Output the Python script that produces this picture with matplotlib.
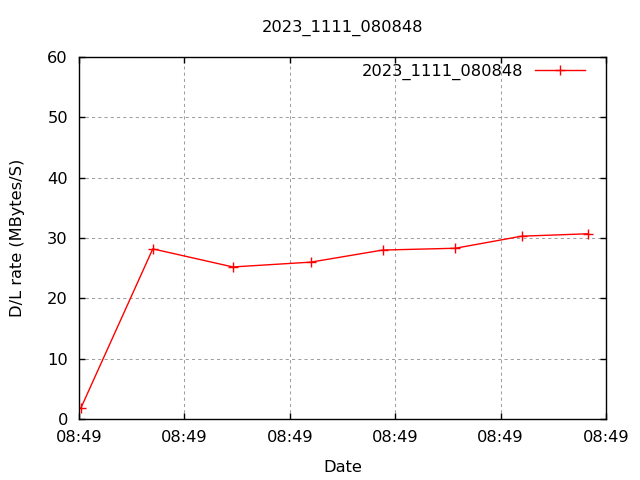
import matplotlib
matplotlib.use("Agg")
import matplotlib.pyplot as plt
import matplotlib.dates as mdates
import pandas as pd

times = ["08:49:00.2", "08:49:07.0", "08:49:14.6", "08:49:22.0",
         "08:49:28.8", "08:49:35.7", "08:49:42.0", "08:49:48.3"]
rates = [1.9, 28.2, 25.2, 26.0, 28.0, 28.3, 30.3, 30.7]
run_name = "2023_1111_080848"

t = pd.to_datetime(["2023-11-11 " + s for s in times])
t_start = pd.Timestamp("2023-11-11 08:49:00")
t_end = pd.Timestamp("2023-11-11 08:49:50")

plt.rcParams['font.family'] = ['DejaVu Sans']
plt.rcParams['font.size'] = 11.7

fig = plt.figure(figsize=(6.4, 4.8), dpi=100)
ax = fig.add_axes([79/640, 1-419/480, (606-79)/640, (419-57)/480])

ax.plot(t, rates, color='red', lw=1, marker='+', ms=7, mew=1, label=run_name)

ax.set_xlim(t_start, t_end)
ax.set_ylim(0, 60)
ax.set_yticks(range(0, 61, 10))
ax.xaxis.set_major_locator(mdates.SecondLocator(bysecond=range(0, 60, 10)))
ax.xaxis.set_major_formatter(mdates.DateFormatter('%H:%M'))

ax.grid(True, color='#a0a0a0', lw=0.75, linestyle=(0, (3, 3)))
ax.tick_params(direction='in', length=4, width=1, top=True, right=True, pad=8)
for s in ax.spines.values():
    s.set_linewidth(1)

ax.set_title(run_name, fontsize=11.7, pad=18)
ax.set_xlabel("Date", labelpad=11)
ax.set_ylabel("D/L rate (MBytes/S)", labelpad=16)

ax.legend(loc='upper right', bbox_to_anchor=(0.960, 0.982), frameon=False,
          markerfirst=False, handlelength=3.1, borderaxespad=0, borderpad=0,
          handletextpad=0.7)

fig.savefig("out.png", dpi=100)
